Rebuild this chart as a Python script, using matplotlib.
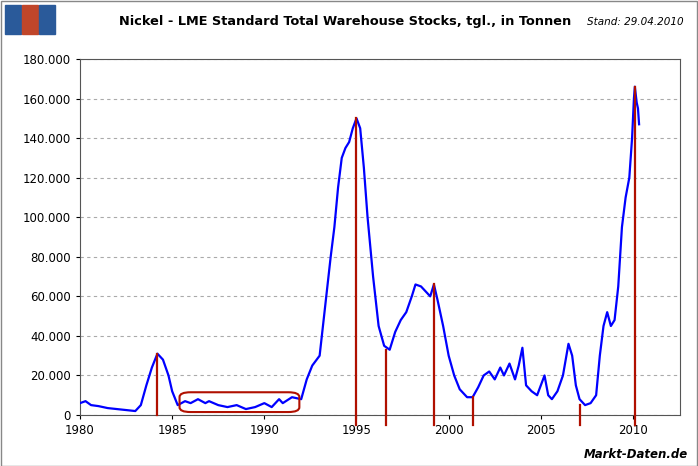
import matplotlib
matplotlib.use("Agg")
import matplotlib.pyplot as plt
from matplotlib.patches import FancyBboxPatch, Rectangle

years = [1980,1980.3,1980.6,1981,1981.5,1982,1982.5,1983,1983.3,1983.6,1983.9,1984.2,1984.5,1984.8,1985,1985.3,1985.7,1986,1986.4,1986.8,1987,1987.5,1988,1988.5,1989,1989.5,1990,1990.4,1990.8,1991,1991.5,1992,1992.3,1992.6,1993,1993.3,1993.6,1993.8,1994,1994.2,1994.4,1994.6,1994.8,1995,1995.2,1995.4,1995.6,1995.9,1996.2,1996.5,1996.8,1997.1,1997.4,1997.7,1998,1998.2,1998.5,1998.8,1999,1999.2,1999.4,1999.7,2000,2000.3,2000.6,2001,2001.3,2001.6,2001.9,2002.2,2002.5,2002.8,2003,2003.3,2003.6,2003.8,2004,2004.2,2004.5,2004.8,2005,2005.2,2005.4,2005.6,2005.9,2006.2,2006.5,2006.7,2006.9,2007.1,2007.4,2007.7,2008,2008.2,2008.4,2008.6,2008.8,2009,2009.2,2009.4,2009.6,2009.8,2009.95,2010.05,2010.1,2010.2,2010.27,2010.33]
stocks = [6000,7000,5000,4500,3500,3000,2500,2000,5000,15000,24000,31000,28000,20000,12000,5000,7000,6000,8000,6000,7000,5000,4000,5000,3000,4000,6000,4000,8000,6000,9000,8000,18000,25000,30000,55000,80000,95000,115000,130000,135000,138000,145000,150000,145000,125000,100000,70000,45000,35000,33000,42000,48000,52000,60000,66000,65000,62000,60000,66000,58000,45000,30000,20000,13000,9000,9000,14000,20000,22000,18000,24000,20000,26000,18000,25000,34000,15000,12000,10000,15000,20000,10000,8000,12000,20000,36000,30000,15000,8000,5000,6000,10000,30000,45000,52000,45000,48000,65000,95000,110000,120000,140000,160000,166000,158000,155000,147000]
mark_years = [1984.2, 1995.0, 1996.6, 1999.2, 2001.3, 2007.1, 2010.1]
mark_tops = [31000, 150000, 33000, 66000, 9000, 5000, 166000]
ytick_vals = list(range(0, 180001, 20000))
ytick_labels = ["0"] + [f"{v//1000}.000" for v in ytick_vals[1:]]
xtick_vals = [1980, 1985, 1990, 1995, 2000, 2005, 2010]

fig = plt.figure(figsize=(6.98, 4.66), dpi=100)
fig.patch.set_facecolor("white")
fig.add_artist(Rectangle((0.001, 0.001), 0.997, 0.997, transform=fig.transFigure, fill=False, edgecolor="#888888", lw=1))
ax = fig.add_axes([80/698, 1-415/466, 600/698, 356/466])
ax.plot(years, stocks, color="#0000ff", lw=1.6, zorder=3)
for x, t in zip(mark_years, mark_tops):
    ax.plot([x, x], [-5000 if x > 1985 else 0, t], color="#b01000", lw=1.6, clip_on=False, zorder=4)
ax.add_patch(FancyBboxPatch((1985.4, 1500), 6.5, 10000, boxstyle="round,pad=0,rounding_size=0.6", mutation_aspect=4000,
                            fill=False, edgecolor="#b01000", lw=1.5, zorder=4))
ax.set_xlim(1980, 2012.55)
ax.set_ylim(0, 180000)
ax.set_yticks(ytick_vals)
ax.set_yticklabels(ytick_labels)
ax.set_xticks(xtick_vals)
ax.grid(axis="y", linestyle=(0, (3, 3)), color="#aaaaaa", lw=0.8)
ax.tick_params(labelsize=8.5, length=3)
for s in ax.spines.values():
    s.set_color("#555555")
fig.text(345/698, 1-22/466, "Nickel - LME Standard Total Warehouse Stocks, tgl., in Tonnen", ha="center", va="center", fontsize=9.3, fontweight="bold")
fig.text(0.98, 1-22/466, "Stand: 29.04.2010", ha="right", va="center", fontsize=7.5, style="italic")
fig.text(0.985, 1-455/466, "Markt-Daten.de", ha="right", va="center", fontsize=8.5, style="italic", fontweight="bold")
# logo
cols = ["#2a5a9a", "#c0462a", "#2a5a9a"]
for i, c in enumerate(cols):
    fig.add_artist(Rectangle(((5+i*17)/698, 1-34/466), 16/698, 29/466, transform=fig.transFigure, color=c))
fig.savefig("out.png", dpi=100)
